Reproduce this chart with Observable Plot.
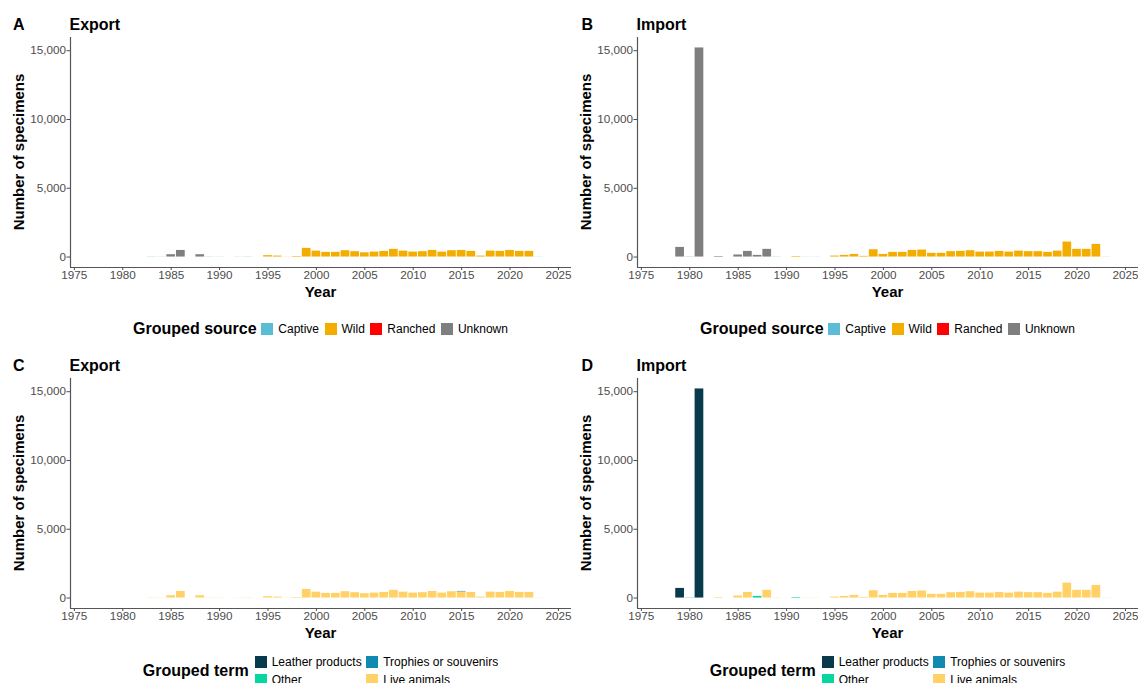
<!DOCTYPE html>
<html>
<head>
<meta charset="utf-8">
<script src="https://cdn.jsdelivr.net/npm/d3@7"></script>
<script src="https://cdn.jsdelivr.net/npm/@observablehq/plot@0.6"></script>
<style>
  body { margin: 0; background: #fff; font-family: "Liberation Sans", Arial, sans-serif; }
  #page { position: relative; width: 1138px; height: 683px; overflow: hidden; background: #fff; }
  .abs { position: absolute; white-space: nowrap; line-height: 1; color: #000; }
  .tag, .title { font-weight: bold; font-size: 16px; }
  .axis-title { font-weight: bold; font-size: 15px; }
  .ytitle { transform: translate(-50%, -50%) rotate(-90deg); }
  .xtitle { transform: translateX(-50%); }
  .legend { position: absolute; display: flex; justify-content: center; align-items: center; }
  .legend .ltitle { font-weight: bold; font-size: 16px; line-height: 1; white-space: nowrap; }
  .legend .items { display: flex; align-items: center; }
  .legend .grid { display: grid; grid-template-rows: auto auto; grid-auto-flow: column; column-gap: 4.5px; row-gap: 5.5px; }
  .item { display: flex; align-items: center; font-size: 12px; line-height: 1; white-space: nowrap; color: #000; }
  .sw { width: 12px; height: 12px; margin-right: 5px; flex: none; }
  .chart { position: absolute; }
</style>
</head>
<body>
<div id="page"></div>
<script>
// Years covered by the trade records
const years = [1979, 1980, 1981, 1982, 1983, 1984, 1985, 1986, 1987, 1988,
               1989, 1990, 1991, 1992, 1993, 1994, 1995, 1996, 1997, 1998,
               1999, 2000, 2001, 2002, 2003, 2004, 2005, 2006, 2007, 2008,
               2009, 2010, 2011, 2012, 2013, 2014, 2015, 2016, 2017, 2018,
               2019, 2020, 2021, 2022, 2023];

// Exports by grouped source (specimens per year)
const exportCaptive = [0,0,0,0,15,10,0,0,0,0,15,10,0,10,15,0,0,0,0,0,
                       0,0,0,0,0,0,15,0,0,0,
                       0,0,0,0,0,0,0,0,0,0,
                       0,0,0,0,10];
const exportWild    = [0,0,0,0,0,0,0,0,0,0,0,0,0,0,0,0,100,70,10,40,
                       630,430,340,340,460,390,300,360,410,560,
                       430,360,390,480,360,460,480,410,70,430,
                       410,480,410,410,0];
const exportRanched = [0,0,0,0,0,0,0,0,0,0,0,0,0,0,0,0,0,0,0,0,
                       0,0,0,0,0,0,0,0,0,0,
                       0,0,0,0,0,0,0,0,0,0,
                       0,0,0,0,0];
const exportUnknown = [0,0,0,0,0,0,170,480,0,170,0,0,0,0,0,0,0,0,0,0,
                       0,0,0,0,0,0,0,0,0,0,
                       0,0,0,0,0,0,0,0,0,0,
                       0,0,0,0,0];

// Imports by grouped source
const importCaptive = [0,20,0,0,0,0,0,0,0,0,15,0,0,10,10,0,0,0,0,0,
                       0,0,0,0,0,0,0,0,0,0,
                       0,0,0,0,0,0,0,0,0,0,
                       0,0,0,0,0];
const importWild    = [0,0,0,0,0,0,0,0,0,0,0,0,40,0,0,0,70,120,190,50,
                       530,190,340,340,480,510,270,270,390,410,
                       460,360,360,410,360,430,390,390,340,430,
                       1090,560,560,920,10];
const importRanched = [0,0,0,0,0,0,0,0,0,0,0,0,0,0,0,0,0,0,0,0,
                       0,0,0,0,0,0,0,0,0,0,
                       0,0,0,0,0,0,0,0,0,0,
                       0,0,0,0,0];
const importUnknown = [700,0,15200,0,40,0,150,410,120,560,0,0,0,0,0,0,0,0,0,0,
                       0,0,0,0,0,0,0,0,0,0,
                       0,0,0,0,0,0,0,0,0,0,
                       0,0,0,0,0];

// Exports by grouped term
const exportLeather  = [0,0,0,0,0,0,0,0,0,0,0,0,0,0,0,0,0,0,0,0,
                        0,0,0,0,0,0,0,0,0,0,
                        0,0,0,0,0,0,0,0,0,0,
                        0,0,0,0,0];
const exportOther    = [0,0,0,0,0,0,0,0,0,0,0,0,0,0,0,0,0,0,0,0,
                        0,0,0,0,0,0,0,0,0,0,
                        0,0,0,0,0,0,0,0,0,0,
                        0,0,0,0,0];
const exportTrophies = [0,0,0,0,0,0,0,0,0,0,0,0,0,0,0,0,0,0,0,0,
                        0,0,0,0,0,0,0,0,0,0,
                        0,0,0,0,0,0,50,0,0,0,
                        0,0,0,0,0];
const exportLive     = [0,0,0,0,15,10,170,480,0,170,15,10,0,10,15,0,100,70,10,40,
                        630,430,340,340,460,390,315,360,410,560,
                        430,360,390,480,360,460,430,410,70,430,
                        410,480,410,410,10];

// Imports by grouped term
const importLeather  = [700,0,15200,0,0,0,0,0,0,0,0,0,0,0,0,0,0,0,0,0,
                        0,0,0,0,0,0,0,0,0,0,
                        0,0,0,0,0,0,0,0,0,0,
                        0,0,0,0,0];
const importOther    = [0,20,0,0,0,0,0,0,120,0,0,0,40,0,0,0,0,0,0,0,
                        0,0,0,0,0,0,0,0,0,0,
                        0,0,0,0,0,0,0,0,0,0,
                        0,0,0,0,0];
const importTrophies = [0,0,0,0,0,0,0,0,0,0,0,0,0,0,0,0,0,0,0,0,
                        0,0,0,0,0,0,0,0,0,0,
                        0,0,0,0,0,0,0,0,0,0,
                        0,0,0,0,0];
const importLive     = [0,0,0,0,40,0,150,410,0,560,15,0,0,10,10,0,70,120,190,50,
                        530,190,340,340,480,510,270,270,390,410,
                        460,360,360,410,360,430,390,390,340,430,
                        1090,560,560,920,10];

// Categories, colours and axis ticks
const sourceCats   = ["Captive", "Wild", "Ranched", "Unknown"];
const sourceColors = ["#5BBCD6", "#F2AD00", "#FF0000", "#7F7F7F"];
const termCats     = ["Leather products", "Other", "Trophies or souvenirs", "Live animals"];
const termColors   = ["#073B4C", "#06D6A0", "#118AB2", "#FFD166"];
const xTicks = [1975, 1980, 1985, 1990, 1995, 2000, 2005, 2010, 2015, 2020, 2025];
const yTicks = [0, 5000, 10000, 15000];
const xLimits = [1974.6, 2026.35];
const barWidth = 0.9;

const formatCount = d3.format(",.0f");
const formatYear = d3.format("d");

const panels = [
  {tag: "A", title: "Export", legend: "Grouped source", cats: sourceCats, colors: sourceColors,
   series: [exportCaptive, exportWild, exportRanched, exportUnknown], col: 0, row: 0},
  {tag: "B", title: "Import", legend: "Grouped source", cats: sourceCats, colors: sourceColors,
   series: [importCaptive, importWild, importRanched, importUnknown], col: 1, row: 0},
  {tag: "C", title: "Export", legend: "Grouped term", cats: termCats, colors: termColors,
   series: [exportLeather, exportOther, exportTrophies, exportLive], col: 0, row: 1},
  {tag: "D", title: "Import", legend: "Grouped term", cats: termCats, colors: termColors,
   series: [importLeather, importOther, importTrophies, importLive], col: 1, row: 1}
];

// Long-format rows for one panel
function toRows(p) {
  return p.cats.flatMap((cat, k) =>
    years.map((year, i) => ({year, cat, value: p.series[k][i]}))
  ).filter(d => d.value > 0);
}
panels.forEach(p => { p.rows = toRows(p); });

// Shared y scale: tallest stacked bar plus 5% padding each side
const yMax = d3.max(panels, p => d3.max(d3.rollup(p.rows, v => d3.sum(v, d => d.value), d => d.year).values()));
const yDomain = [-0.05 * yMax, 1.05 * yMax];

// Page layout
const cols = [
  {svgLeft: 0,   width: 575, marginLeft: 70, marginRight: 4, tagLeft: 13},
  {svgLeft: 575, width: 563, marginLeft: 62, marginRight: 0, tagLeft: 581.5}
];
const rowTops = [0, 341];
const svgHeight = 305, marginTop = 37, marginBottom = 38;

const page = document.getElementById("page");

function addText(cls, text, left, top) {
  const el = document.createElement("div");
  el.className = "abs " + cls;
  el.textContent = text;
  el.style.left = left + "px";
  el.style.top = top + "px";
  page.appendChild(el);
  return el;
}

function swatchItem(label, color) {
  const item = document.createElement("div");
  item.className = "item";
  const sw = document.createElement("div");
  sw.className = "sw";
  sw.style.background = color;
  const t = document.createElement("span");
  t.textContent = label;
  item.appendChild(sw);
  item.appendChild(t);
  return item;
}

panels.forEach(p => {
  const col = cols[p.col];
  const top = rowTops[p.row];
  const plotLeft = col.svgLeft + col.marginLeft;
  const plotRight = col.svgLeft + col.width - col.marginRight;
  const plotMid = (plotLeft + plotRight) / 2;

  const chart = Plot.plot({
    width: col.width,
    height: svgHeight,
    marginLeft: col.marginLeft,
    marginRight: col.marginRight,
    marginTop,
    marginBottom,
    style: {fontFamily: '"Liberation Sans", Arial, sans-serif', fontSize: "11.7px", color: "#4d4d4d", background: "transparent", overflow: "visible"},
    x: {domain: xLimits},
    y: {domain: yDomain},
    color: {domain: p.cats, range: p.colors},
    marks: [
      Plot.rect(p.rows, Plot.stackY({
        x: "year",
        x1: d => d.year - barWidth / 2,
        x2: d => d.year + barWidth / 2,
        y: "value",
        fill: "cat",
        order: p.cats.slice().reverse()
      })),
      Plot.ruleX([xLimits[0]], {stroke: "#555", strokeWidth: 1.2}),
      Plot.ruleY([yDomain[0]], {stroke: "#555", strokeWidth: 1.2}),
      Plot.axisX({ticks: xTicks, tickFormat: formatYear, tickSize: 3, tickPadding: 0.5, label: null}),
      Plot.axisY({ticks: yTicks, tickFormat: formatCount, tickSize: 3.5, tickPadding: 1, label: null})
    ]
  });
  chart.classList.add("chart");
  chart.style.left = col.svgLeft + "px";
  chart.style.top = top + "px";
  page.appendChild(chart);

  // Panel tag and title
  addText("tag", p.tag, col.tagLeft, top + 16.5);
  addText("title", p.title, plotLeft - 0.5, top + 16.5);

  // Axis titles
  addText("axis-title xtitle", "Year", plotMid, top + 284.3);
  addText("axis-title ytitle", "Number of specimens", plotLeft - 52, top + (marginTop + svgHeight - marginBottom) / 2);

  // Legend below the panel
  const lg = document.createElement("div");
  lg.className = "legend";
  lg.style.left = plotLeft + "px";
  lg.style.width = (plotRight - plotLeft) + "px";
  const lt = document.createElement("div");
  lt.className = "ltitle";
  lt.textContent = p.legend;
  lg.appendChild(lt);
  if (p.row === 0) {
    lg.style.top = (top + 321) + "px";
    lg.style.height = "16px";
    lt.style.marginRight = "4.7px";
    const items = document.createElement("div");
    items.className = "items";
    p.cats.forEach((c, i) => {
      const it = swatchItem(c, p.colors[i]);
      if (i < p.cats.length - 1) it.style.marginRight = "5.5px";
      items.appendChild(it);
    });
    lg.appendChild(items);
  } else {
    lg.style.top = (top + 315) + "px";
    lg.style.height = "29.5px";
    lt.style.marginRight = "6px";
    const grid = document.createElement("div");
    grid.className = "grid";
    p.cats.forEach((c, i) => grid.appendChild(swatchItem(c, p.colors[i])));
    lg.appendChild(grid);
  }
  page.appendChild(lg);
});
</script>
</body>
</html>
